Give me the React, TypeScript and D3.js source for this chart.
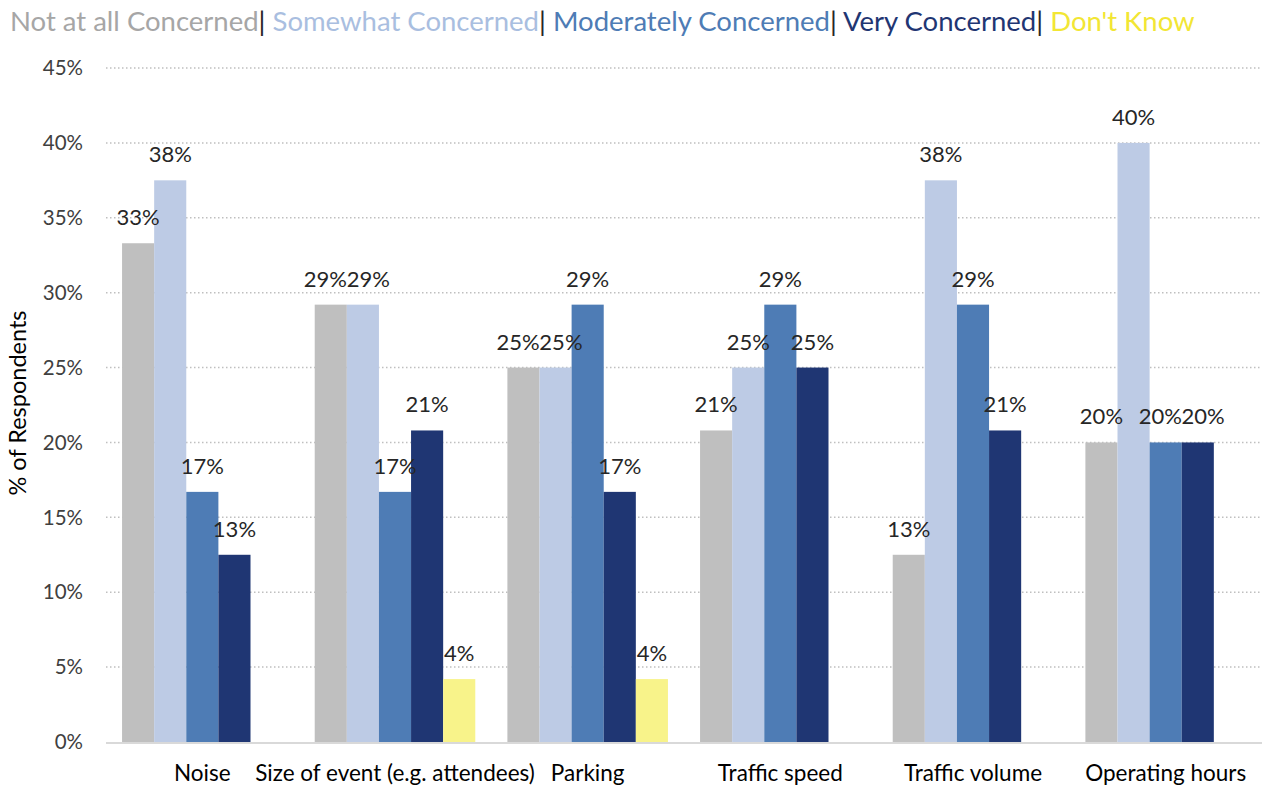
import React from "react";
import * as d3 from "d3";

const categories = ["Noise", "Size of event (e.g. attendees)", "Parking", "Traffic speed", "Traffic volume", "Operating hours"];
const seriesNames = ["Not at all Concerned", "Somewhat Concerned", "Moderately Concerned", "Very Concerned", "Don't Know"];
const notAtAll = [33.3, 29.2, 25.0, 20.8, 12.5, 20.0];
const somewhat = [37.5, 29.2, 25.0, 25.0, 37.5, 40.0];
const moderately = [16.7, 16.7, 29.2, 29.2, 29.2, 20.0];
const very = [12.5, 20.8, 16.7, 25.0, 20.8, 20.0];
const dontKnow = [0, 4.2, 4.2, 0, 0, 0];
const yTicks = [0, 5, 10, 15, 20, 25, 30, 35, 40, 45];

const barColors = ["#BFBFBF", "#BDCBE5", "#4E7CB5", "#1F3673", "#F8F38A"];
const legendColors = ["#A6A6A6", "#A9BEE0", "#4E7CB5", "#1F3673", "#F2E634"];

const W = 1265;
const H = 786;
const FONT = "Lato, 'Open Sans', sans-serif";
const LABEL_SIZE = 22;

function estWidth(s: string, size: number) {
  let w = 0;
  for (const ch of s) w += ch === "%" ? 0.79 : 0.58;
  return w * size;
}

export default function App() {
  const series = [notAtAll, somewhat, moderately, very, dontKnow];
  const left = 106;
  const right = 1262;
  const top = 68;
  const bottom = 742;

  const x0 = d3.scaleBand<string>().domain(categories).range([left, right]).paddingInner(0).paddingOuter(0);
  const x1 = d3
    .scaleBand<number>()
    .domain(d3.range(series.length))
    .range([0, x0.bandwidth()])
    .paddingOuter(0.5)
    .paddingInner(0);
  const y = d3.scaleLinear().domain([0, 45]).range([bottom, top]);

  // compute data labels with simple overlap resolution
  const labels: { key: string; x: number; y: number; text: string }[] = [];
  categories.forEach((c, ci) => {
    const row = series
      .map((s, si) => ({ si, v: s[ci] }))
      .filter((d) => d.v > 0)
      .map((d) => {
        const text = `${Math.round(d.v)}%`;
        return {
          key: `${ci}-${d.si}`,
          x: (x0(c) as number) + (x1(d.si) as number) + x1.bandwidth() / 2,
          y: y(d.v) - 18,
          text,
          w: estWidth(text, LABEL_SIZE),
        };
      });
    for (let k = 0; k < 3; k++) {
      for (let i = 0; i < row.length - 1; i++) {
        const a = row[i];
        const b = row[i + 1];
        if (Math.abs(a.y - b.y) < LABEL_SIZE) {
          const overlap = a.x + a.w / 2 - (b.x - b.w / 2);
          if (overlap > 0) {
            a.x -= overlap / 2;
            b.x += overlap / 2;
          }
        }
      }
    }
    row.forEach((r) => labels.push(r));
  });

  return (
    <svg width={W} height={H} style={{ position: "absolute", left: 0, top: 0, background: "#fff" }}>
      {/* legend */}
      <text x={10} y={31} fontFamily={FONT} fontSize={27.5}>
        {seriesNames.map((n, i) => (
          <React.Fragment key={n}>
            <tspan fill={legendColors[i]}>{n}</tspan>
            {i < seriesNames.length - 1 ? <tspan fill="#262626">| </tspan> : null}
          </React.Fragment>
        ))}
      </text>

      {/* gridlines */}
      {yTicks.map((t) =>
        t === 0 ? null : (
          <line
            key={t}
            x1={left}
            x2={right}
            y1={y(t)}
            y2={y(t)}
            stroke="#BFBFBF"
            strokeWidth={1.5}
            strokeDasharray="1.5 2.5"
          />
        )
      )}

      {/* y tick labels */}
      {yTicks.map((t) => (
        <text
          key={"l" + t}
          x={83}
          y={y(t)}
          dy="0.35em"
          textAnchor="end"
          fontFamily={FONT}
          fontSize={20.5}
          fill="#404040"
        >
          {t}%
        </text>
      ))}

      {/* axis title */}
      <text
        transform={`translate(26, 403) rotate(-90)`}
        textAnchor="middle"
        fontFamily={FONT}
        fontSize={23.5}
        fill="#000"
      >
        % of Respondents
      </text>

      {/* bars */}
      {categories.map((c, ci) => (
        <g key={c} transform={`translate(${x0(c)},0)`}>
          {series.map((s, si) =>
            s[ci] > 0 ? (
              <rect
                key={si}
                x={x1(si)}
                y={y(s[ci])}
                width={x1.bandwidth()}
                height={y(0) - y(s[ci])}
                fill={barColors[si]}
              />
            ) : null
          )}
        </g>
      ))}

      {/* data labels */}
      {labels.map((l) => (
        <text
          key={"t" + l.key}
          x={l.x}
          y={l.y}
          textAnchor="middle"
          fontFamily={FONT}
          fontSize={LABEL_SIZE}
          fill="#262626"
        >
          {l.text}
        </text>
      ))}

      {/* baseline */}
      <line x1={left} x2={right} y1={bottom + 1} y2={bottom + 1} stroke="#D9D9D9" strokeWidth={2} />

      {/* category labels */}
      {categories.map((c) => (
        <text
          key={"c" + c}
          x={(x0(c) as number) + x0.bandwidth() / 2}
          y={781}
          textAnchor="middle"
          fontFamily={FONT}
          fontSize={22.5}
          fill="#000"
        >
          {c}
        </text>
      ))}
    </svg>
  );
}
